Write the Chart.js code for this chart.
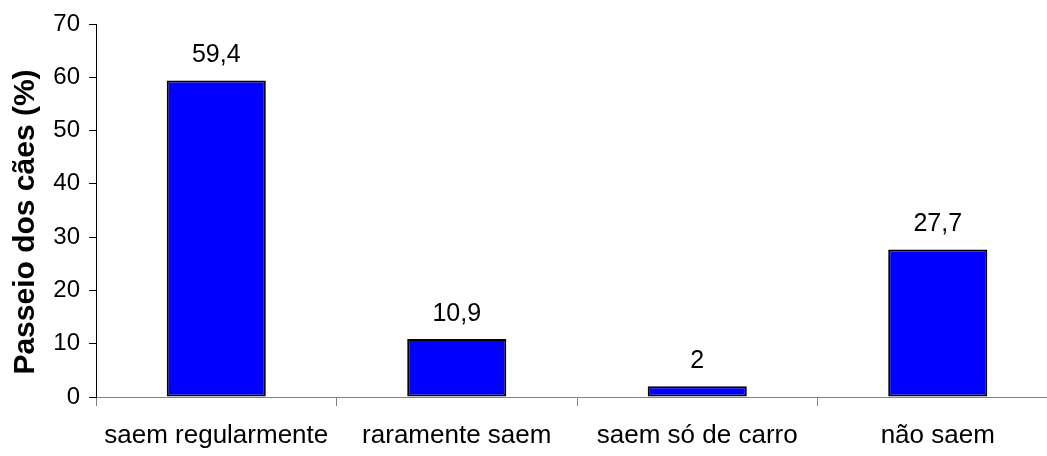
<!DOCTYPE html>
<html>
<head>
<meta charset="utf-8">
<script src="https://cdn.jsdelivr.net/npm/chart.js@4/dist/chart.umd.min.js"></script>
<style>
  html, body { margin: 0; padding: 0; background: #fff; overflow: hidden; }
  #wrap { position: relative; width: 1060px; height: 456px; }
</style>
</head>
<body>
<div id="wrap"><canvas id="c"></canvas></div>
<script>
// Categories and percentages of dog walks
const categories = ['saem regularmente', 'raramente saem', 'saem só de carro', 'não saem'];
const values = [59.4, 10.9, 2, 27.7];
const valueLabels = ['59,4', '10,9', '2', '27,7'];
const yTicks = [0, 10, 20, 30, 40, 50, 60, 70];
const yTitle = 'Passeio dos cães (%)';

const FONT = '"Liberation Sans", Arial, sans-serif';

// Value labels above each bar
const barLabels = {
  id: 'barLabels',
  afterDatasetsDraw(chart) {
    const ctx = chart.ctx;
    const meta = chart.getDatasetMeta(0);
    ctx.save();
    ctx.font = '25px ' + FONT;
    ctx.fillStyle = '#000';
    ctx.textAlign = 'center';
    ctx.textBaseline = 'alphabetic';
    meta.data.forEach((bar, i) => {
      ctx.fillText(valueLabels[i], bar.x, bar.y - 18);
    });
    ctx.restore();
  }
};

// Rotated y-axis title
const yAxisTitle = {
  id: 'yAxisTitle',
  afterDraw(chart) {
    const ctx = chart.ctx;
    ctx.save();
    ctx.translate(26, 222);
    ctx.rotate(-Math.PI / 2);
    ctx.font = 'bold 30px ' + FONT;
    ctx.fillStyle = '#000';
    ctx.textAlign = 'center';
    ctx.textBaseline = 'middle';
    ctx.fillText(yTitle, 0, 0);
    ctx.restore();
  }
};

new Chart(document.getElementById('c'), {
  type: 'bar',
  data: {
    labels: categories,
    datasets: [{
      data: values,
      backgroundColor: '#0000FF',
      borderColor: '#000000',
      borderWidth: 2,
      borderSkipped: false,
      categoryPercentage: 1,
      barPercentage: 0.412
    }]
  },
  options: {
    responsive: true,
    maintainAspectRatio: false,
    animation: false,
    layout: { padding: { top: 24, right: 2, left: 0, bottom: 0 } },
    plugins: {
      legend: { display: false },
      tooltip: { enabled: false }
    },
    scales: {
      x: {
        offset: true,
        afterFit(scale) { scale.height = 59; },
        grid: {
          offset: true,
          drawOnChartArea: false,
          drawTicks: true,
          tickLength: 9,
          color: '#808080',
          lineWidth: 1
        },
        border: { display: true, color: '#808080', width: 1 },
        ticks: {
          color: '#000',
          font: { family: FONT, size: 26 },
          padding: 14,
          maxRotation: 0,
          autoSkip: false
        }
      },
      y: {
        min: 0,
        max: 70,
        afterFit(scale) { scale.width = 96; },
        afterBuildTicks(scale) { scale.ticks = yTicks.map(v => ({ value: v })); },
        grid: {
          drawOnChartArea: false,
          drawTicks: true,
          tickLength: 7,
          color: '#000',
          lineWidth: 1
        },
        border: { display: true, color: '#000', width: 1 },
        ticks: {
          color: '#000',
          font: { family: FONT, size: 24 },
          padding: 9
        }
      }
    }
  },
  plugins: [barLabels, yAxisTitle]
});
</script>
</body>
</html>
